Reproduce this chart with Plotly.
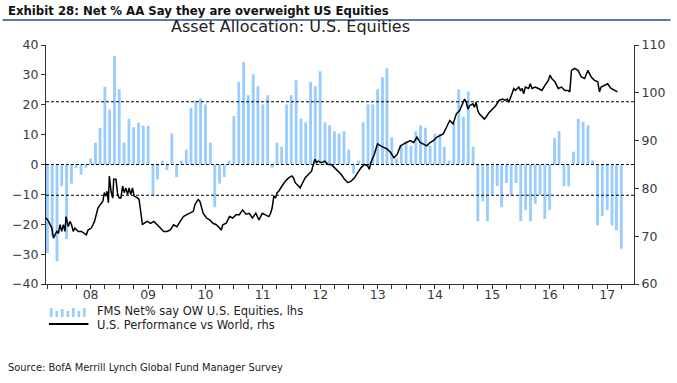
import pandas as pd
import plotly.graph_objects as go

# ---------------- data ----------------
bar_start = "2007-04-01"   # first monthly survey shown
fms_net = [
    -29.6, -24.0, -32.4, -7.3, -25.0, -6.4, -1.1, -3.4, -1.1,          # Apr-Dec 07
    2.0, 7.3, 12.3, 26.0, 18.4, 36.3, 25.2, 7.3, 15.3, 12.5, 14.0, 13.0,  # 08
    13.0, -10.3, -5.0, 1.3, -1.9, 10.4, -4.2, 1.3, 5.0, 19.0, 21.5, 22.1,  # 09
    20.1, 7.3, -14.3, -6.4, -4.2, 1.3, 16.2, 27.6, 34.3, 23.2, 30.2, 26.2,  # 10
    20.1, 23.2, -1.1, 7.3, 6.0, 20.1, 23.2, 28.2, 15.4, 14.1, 27.6, 26.2,  # 11
    31.2, 14.1, 13.1, 11.1, 10.4, 11.1, 5.0, -3.1, 1.3, 14.1, 20.1, 20.1,  # 12
    25.2, 29.2, 32.2, 9.1, 2.0, 6.2, 7.8, 6.2, 11.1, 13.1, 12.3, 6.2,      # 13
    10.3, 10.3, 5.9, 1.3, 14.0, 25.2, 16.0, 24.4, 5.9, -19.0, -12.3, -19.0,  # 14
    -10.1, -7.3, -14.3, -6.2, -10.3, -6.2, -19.0, -15.3, -19.0, -13.1, -10.1, -18.2,  # 15
    -15.2, 8.9, 11.2, -7.3, -7.3, 4.3, 15.3, 14.2, 13.1, 1.3, -20.4, -17.3,  # 16
    -15.3, -20.4, -22.1, -28.2,                                          # Jan-Apr 17
]

# U.S. performance vs World (rhs): time as decimal year, value
perf_t = [
    2007.226, 2007.267, 2007.324, 2007.353, 2007.381, 2007.41, 2007.439, 2007.467, 2007.496, 2007.525,
    2007.553, 2007.57, 2007.611, 2007.639, 2007.668, 2007.697, 2007.725, 2007.783, 2007.84, 2007.896,
    2007.926, 2007.955, 2008.012, 2008.041, 2008.068, 2008.127, 2008.184, 2008.213, 2008.24, 2008.27,
    2008.287, 2008.309, 2008.326, 2008.355, 2008.385, 2008.402, 2008.441, 2008.471, 2008.498, 2008.527,
    2008.557, 2008.584, 2008.613, 2008.643, 2008.67, 2008.699, 2008.729, 2008.756, 2008.815, 2008.842,
    2008.871, 2008.901, 2008.928, 2008.986, 2009.043, 2009.1, 2009.158, 2009.215, 2009.272, 2009.33,
    2009.387, 2009.444, 2009.502, 2009.559, 2009.616, 2009.674, 2009.731, 2009.788, 2009.817, 2009.846,
    2009.874, 2009.903, 2009.932, 2009.96, 2010.018, 2010.075, 2010.132, 2010.19, 2010.247, 2010.276,
    2010.303, 2010.362, 2010.419, 2010.475, 2010.534, 2010.591, 2010.647, 2010.706, 2010.762, 2010.819,
    2010.878, 2010.934, 2010.991, 2011.05, 2011.106, 2011.136, 2011.163, 2011.192, 2011.222, 2011.249,
    2011.278, 2011.335, 2011.393, 2011.45, 2011.507, 2011.536, 2011.565, 2011.622, 2011.651, 2011.679,
    2011.737, 2011.794, 2011.851, 2011.88, 2011.909, 2011.937, 2011.966, 2012.023, 2012.081, 2012.138,
    2012.195, 2012.253, 2012.31, 2012.367, 2012.425, 2012.482, 2012.539, 2012.597, 2012.654, 2012.71,
    2012.769, 2012.826, 2012.855, 2012.882, 2012.941, 2012.998, 2013.054, 2013.113, 2013.169, 2013.226,
    2013.285, 2013.341, 2013.398, 2013.457, 2013.513, 2013.57, 2013.628, 2013.685, 2013.742, 2013.8,
    2013.857, 2013.914, 2013.972, 2014.029, 2014.086, 2014.144, 2014.201, 2014.258, 2014.316, 2014.373,
    2014.43, 2014.488, 2014.516, 2014.545, 2014.574, 2014.602, 2014.66, 2014.687, 2014.717, 2014.746,
    2014.773, 2014.832, 2014.859, 2014.889, 2014.945, 2015.004, 2015.06, 2015.117, 2015.176, 2015.232,
    2015.261, 2015.289, 2015.348, 2015.375, 2015.404, 2015.461, 2015.49, 2015.52, 2015.547, 2015.576,
    2015.633, 2015.662, 2015.691, 2015.748, 2015.805, 2015.864, 2015.92, 2015.977, 2016.006, 2016.036,
    2016.092, 2016.149, 2016.207, 2016.264, 2016.321, 2016.35, 2016.379, 2016.436, 2016.493, 2016.551,
    2016.608, 2016.665, 2016.723, 2016.78, 2016.837, 2016.866, 2016.895, 2016.952, 2017.009, 2017.067,
    2017.124, 2017.18,
]
perf_v = [
    73.8, 73.1, 71.7, 69.6, 70.3, 71.0, 70.6, 72.4, 71.0, 72.4,
    71.0, 74.1, 72.0, 73.1, 72.4, 71.0, 71.7, 71.0, 71.0, 70.6,
    70.3, 71.3, 71.7, 72.4, 73.1, 75.9, 76.9, 77.3, 79.1, 78.4,
    79.4, 77.0, 82.6, 79.4, 78.0, 81.9, 81.9, 78.7, 78.0, 78.0,
    80.5, 79.1, 80.1, 78.7, 80.1, 78.7, 80.1, 78.4, 78.0, 77.7,
    75.2, 72.4, 72.7, 73.1, 72.7, 73.1, 72.4, 71.7, 71.0, 71.0,
    71.3, 72.4, 72.0, 73.1, 74.1, 74.5, 74.8, 75.2, 76.6, 77.3,
    77.7, 77.3, 76.2, 74.8, 73.8, 73.4, 72.7, 72.4, 71.7, 71.3,
    72.4, 72.7, 74.1, 73.8, 74.5, 74.5, 75.5, 74.6, 74.8, 73.8,
    74.8, 73.4, 74.8, 74.5, 74.1, 74.8, 75.9, 78.4, 78.0, 79.1,
    79.4, 80.5, 81.5, 82.2, 82.6, 82.2, 81.2, 80.5, 80.1, 80.8,
    82.2, 82.9, 83.6, 85.0, 86.1, 85.4, 85.7, 85.4, 85.7, 85.0,
    85.0, 84.3, 83.6, 82.9, 81.9, 81.2, 81.5, 82.2, 83.3, 84.3,
    85.0, 84.7, 84.0, 85.4, 87.1, 89.3, 88.9, 88.6, 88.2, 87.5,
    86.4, 87.1, 88.9, 89.3, 89.6, 90.0, 89.6, 90.7, 89.6, 89.3,
    88.9, 89.6, 90.0, 90.7, 91.0, 91.4, 92.8, 94.2, 93.5, 95.6,
    96.3, 97.7, 98.7, 98.0, 96.6, 97.3, 97.7, 97.0, 98.0, 96.3,
    95.6, 94.9, 94.5, 94.9, 95.9, 96.6, 97.3, 98.4, 98.7, 98.4,
    98.7, 98.0, 100.2, 100.9, 100.5, 101.2, 100.5, 100.9, 99.8, 101.2,
    100.9, 101.9, 100.9, 101.2, 100.9, 100.5, 101.6, 102.6, 103.7, 103.0,
    102.3, 100.9, 101.2, 100.5, 100.5, 100.2, 104.7, 105.1, 104.7, 103.3,
    103.0, 104.7, 103.3, 102.6, 102.3, 100.2, 101.2, 101.6, 101.9, 100.9,
    100.5, 100.2,
]

upper_band = 21.0     # dashed reference lines on lhs
lower_band = -10.3
zero_line = 0.0

year_ticks = [2008, 2009, 2010, 2011, 2012, 2013, 2014, 2015, 2016, 2017]
year_labels = ["08", "09", "10", "11", "12", "13", "14", "15", "16", "17"]

title_main = "Exhibit 28: Net % AA Say they are overweight US Equities"
chart_title = "Asset Allocation: U.S. Equities"
legend_bar = "FMS Net% say OW U.S. Equities, lhs"
legend_line = "U.S. Performance vs World, rhs"
source_text = "Source: BofA Merrill Lynch Global Fund Manager Survey"

# ---------------- helpers ----------------
def dec_to_date(d):
    y = int(d)
    start = pd.Timestamp(year=y, month=1, day=1)
    end = pd.Timestamp(year=y + 1, month=1, day=1)
    return start + (end - start) * (d - y)

bar_dates = pd.date_range(bar_start, periods=len(fms_net), freq="MS")
perf_dates = [dec_to_date(t) for t in perf_t]

W, H = 677, 383
ML, MR, MT, MB = 44, 37, 45, 99
PW, PH = W - ML - MR, H - MT - MB

def px(xp):
    return (xp - ML) / PW

def py(yp):
    return (H - MB - yp) / PH

BAR_COLOR = "#99CCFF"
AXIS_COLOR = "#333333"
SANS = "DejaVu Sans, Liberation Sans, sans-serif"
NARROW = "Liberation Sans Narrow, DejaVu Sans Condensed, sans-serif"
TICK_FONT = dict(family=SANS, size=12.5, color="#3a3a3a")

fig = go.Figure()
fig.add_trace(go.Bar(
    x=bar_dates, y=fms_net, name=legend_bar,
    marker=dict(color=BAR_COLOR, line=dict(width=0)),
    width=18 * 86400000, yaxis="y",
))
fig.add_trace(go.Scatter(
    x=perf_dates, y=perf_v, name=legend_line, mode="lines",
    line=dict(color="black", width=1.5), yaxis="y2",
))

for v in (upper_band, lower_band, zero_line):
    fig.add_shape(type="line", xref="paper", x0=0, x1=1, yref="y", y0=v, y1=v,
                  line=dict(color="black", width=1, dash="3px,2px"), layer="above")

# header rule
fig.add_shape(type="line", xref="paper", yref="paper", x0=px(0), x1=px(W), y0=py(20), y1=py(20),
              line=dict(color="#5A7BB0", width=2))

# legend symbols
leg_heights = [9, 6, 8, 6, 9, 6, 9]
for i, h in enumerate(leg_heights):
    x0 = 48 + i * 5.6
    fig.add_shape(type="rect", xref="paper", yref="paper",
                  x0=px(x0), x1=px(x0 + 2.6), y0=py(317), y1=py(317 - h),
                  fillcolor=BAR_COLOR, line=dict(width=0))
fig.add_shape(type="line", xref="paper", yref="paper", x0=px(47), x1=px(87), y0=py(324), y1=py(324),
              line=dict(color="black", width=2))

ann = []
ann.append(dict(text="<b>" + title_main + "</b>", x=px(3), y=py(10), xanchor="left", yanchor="middle",
                font=dict(family=NARROW, size=13, color="#111111")))
ann.append(dict(text=chart_title, x=px(292), y=py(27), xanchor="center", yanchor="middle",
                font=dict(family=SANS, size=16, color="#222222")))
ann.append(dict(text=legend_bar, x=px(94), y=py(310.5), xanchor="left", yanchor="middle",
                font=dict(family=SANS, size=11.5, color="#222222")))
ann.append(dict(text=legend_line, x=px(94), y=py(324.5), xanchor="left", yanchor="middle",
                font=dict(family=SANS, size=11.5, color="#222222")))
ann.append(dict(text=source_text, x=px(3), y=py(367), xanchor="left", yanchor="middle",
                font=dict(family=NARROW, size=11, color="#222222")))
for a in ann:
    a.update(xref="paper", yref="paper", showarrow=False)

fig.update_layout(
    width=W, height=H,
    margin=dict(l=ML, r=MR, t=MT, b=MB, pad=0),
    paper_bgcolor="white", plot_bgcolor="white",
    showlegend=False, annotations=ann,
    xaxis=dict(
        type="date",
        range=[dec_to_date(2007.222), dec_to_date(2017.468)],
        tickvals=[pd.Timestamp(year=y, month=1, day=1) for y in year_ticks],
        ticktext=year_labels,
        ticks="outside", ticklen=4, tickcolor=AXIS_COLOR, tickwidth=1,
        ticklabelstandoff=-5,
        minor=dict(dtick="M3", tick0="2007-01-01", ticks="outside", ticklen=4, tickcolor=AXIS_COLOR),
        showline=True, linecolor=AXIS_COLOR, linewidth=1,
        showgrid=False, zeroline=False, tickfont=TICK_FONT,
    ),
    yaxis=dict(
        range=[-40, 40], dtick=10, tick0=0,
        ticks="outside", ticklen=4, tickcolor=AXIS_COLOR,
        showline=True, linecolor=AXIS_COLOR, linewidth=1,
        showgrid=False, zeroline=False, tickfont=TICK_FONT,
    ),
    yaxis2=dict(
        range=[60, 110], dtick=10, tick0=60, overlaying="y", side="right",
        ticks="outside", ticklen=4, tickcolor=AXIS_COLOR,
        showline=True, linecolor=AXIS_COLOR, linewidth=1,
        showgrid=False, zeroline=False, tickfont=TICK_FONT,
    ),
)

fig.write_html("out.html", config={"displayModeBar": False},
               post_script="document.body.style.margin='0px';")
